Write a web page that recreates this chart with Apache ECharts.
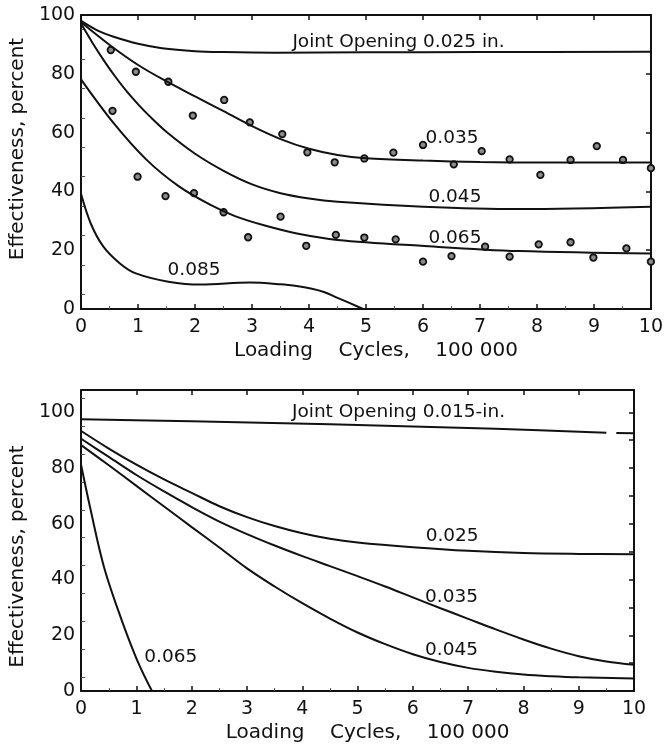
<!DOCTYPE html>
<html>
<head>
<meta charset="utf-8">
<style>
html, body { margin: 0; padding: 0; background: #fff; }
#main { width: 666px; height: 746px; }
</style>
<script src="https://cdn.jsdelivr.net/npm/echarts@6/dist/echarts.min.js"></script>
</head>
<body>
<div id="main"></div>
<script>
// upper chart: curves for each joint opening, [cycles (100 000), effectiveness %]
var top025 = [[0, 98], [0.3, 94.6], [0.57, 92.6], [1, 90.2], [1.42, 88.7], [2, 87.7], [2.5, 87.4], [3.4, 87.2], [5, 87.3], [7, 87.4], [10, 87.5]];
var top035 = [[0, 97.5], [0.5, 89.8], [1, 83], [1.5, 77.4], [2, 72.3], [2.5, 67.3], [3, 62.2], [3.5, 57.8], [4, 54.5], [4.5, 52.4], [5, 51.3], [6, 50.5], [7, 50], [8, 49.8], [10, 49.8]];
var top045 = [[0, 97], [0.2, 90.5], [0.4, 84.5], [0.6, 79], [0.8, 74], [1, 69.6], [1.2, 65.6], [1.5, 60.2], [2, 52.8], [2.5, 47], [3, 42.4], [3.5, 39.4], [4, 37.6], [4.5, 36.5], [6, 34.8], [7.68, 34], [10, 34.8]];
var top065 = [[0, 78], [0.57, 63.2], [1.14, 50.9], [1.71, 41.8], [2.28, 35.3], [2.7, 31.6], [3.24, 28.3], [3.81, 25.6], [4.5, 23.5], [5.97, 21.5], [7.68, 19.7], [10, 18.9]];
var top085 = [[0, 39], [0.17, 29], [0.39, 21.2], [0.68, 15.5], [0.96, 12.1], [1.53, 9.3], [2.1, 8.3], [2.96, 9], [3.5, 8.4], [3.81, 7.7], [4.05, 6.9], [4.26, 5.8], [4.5, 3.8], [4.95, 0]];

// measured points in the upper chart
var topDots = [
  [0.52, 88.1], [0.96, 80.7], [1.53, 77.3], [2.51, 71.1], [1.96, 65.8], [2.96, 63.5], [3.53, 59.5], [3.97, 53.3], [4.45, 49.9],
  [4.97, 51.2], [5.48, 53.2], [6.0, 55.8], [6.54, 49.2], [7.03, 53.7], [7.52, 50.9], [8.06, 45.6], [8.59, 50.7], [9.05, 55.4], [9.51, 50.7], [10, 47.9],
  [0.55, 67.4], [0.99, 45], [1.48, 38.4], [1.98, 39.4], [2.5, 32.9], [3.5, 31.4], [2.93, 24.4], [3.95, 21.5], [4.47, 25.2],
  [4.97, 24.3], [5.52, 23.7], [6.0, 16.1], [6.5, 18], [7.09, 21.2], [7.52, 17.8], [8.03, 22], [8.59, 22.7], [8.99, 17.5], [9.57, 20.6], [10, 16.1]
];

// lower chart curves
var bot015 = [[0, 97.5], [2, 96.8], [4.5, 95.7], [7.5, 94.1], [9.5, 92.7], [9.58, '-'], [9.68, 92.6], [10, 92.5]];
var bot025 = [[0, 93.3], [0.5, 87], [1, 81.2], [1.5, 75.9], [2, 71.1], [2.5, 66.3], [3, 62.4], [3.5, 59.2], [4, 56.6], [4.5, 54.6], [5, 53.3], [6, 51.6], [7, 50.3], [8, 49.5], [9, 49.2], [10, 49.1]];
var bot035 = [[0, 90.5], [0.5, 84], [1, 77.5], [1.5, 71.6], [2, 66], [2.5, 60.8], [3, 56.3], [3.5, 52.2], [4, 48.4], [4.5, 44.8], [5, 41.2], [5.5, 37.5], [6, 33.6], [6.5, 29.7], [7, 25.9], [7.5, 22.1], [8, 18.5], [8.5, 15.2], [9, 12.5], [9.5, 10.6], [10, 9.4]];
var bot045 = [[0, 88.2], [0.5, 81], [1, 73.6], [1.5, 66.2], [2, 58.8], [2.5, 51.5], [3, 44], [3.5, 37.5], [4, 31.5], [4.5, 26], [5, 21], [5.5, 16.8], [6, 13.2], [6.5, 10.4], [7, 8.3], [7.5, 6.9], [8, 5.9], [8.5, 5.3], [9, 4.9], [10, 4.5]];
var bot065 = [[0, 81], [0.17, 65.1], [0.41, 44.7], [0.71, 26.7], [1.01, 11.2], [1.28, 0]];

// curve captions, anchored at data coordinates
var topNotes = [['Joint Opening 0.025 in.', 5.57, 90.8], ['0.035', 6.51, 58.2], ['0.045', 6.56, 38.1], ['0.065', 6.56, 24.1], ['0.085', 1.98, 13.3]];
var botNotes = [['Joint Opening 0.015-in.', 5.74, 100], ['0.025', 6.71, 55.4], ['0.035', 6.7, 33.5], ['0.045', 6.7, 14.7], ['0.065', 1.62, 12.2]];

var xTicks = [0, 1, 2, 3, 4, 5, 6, 7, 8, 9, 10];
var yTicks = [0, 20, 40, 60, 80, 100];
var xTitle = 'Loading    Cycles,    100 000';
var yTitle = 'Effectiveness, percent';

var ink = '#111';
var font = 'DejaVu Sans';

var myChart = echarts.init(document.getElementById('main'));

let xAxisFor = function(grid, pos, labels) {
  return {
    type: 'value', gridIndex: grid, position: pos,
    min: xTicks[0], max: xTicks[xTicks.length - 1], interval: 1,
    name: labels ? xTitle : '', nameLocation: 'middle', nameGap: 32,
    nameTextStyle: { fontFamily: font, fontSize: 20, color: ink, padding: [0, 0, 0, 20] },
    axisLine: { show: true, onZero: false, lineStyle: { color: ink, width: 2 } },
    axisTick: { show: true, inside: true, length: 5, lineStyle: { color: ink, width: 1.5 } },
    minorTick: { show: labels, splitNumber: 2, length: 3, lineStyle: { color: '#555' } },
    axisLabel: { show: labels, margin: 9, fontFamily: font, fontSize: 19, color: ink },
    splitLine: { show: false }
  };
};

let yAxisFor = function(grid, pos, max, step, labels, pad) {
  return {
    type: 'value', gridIndex: grid, position: pos,
    min: 0, max: max, interval: step,
    name: labels ? yTitle : '', nameLocation: 'middle', nameGap: 37,
    nameTextStyle: { fontFamily: font, fontSize: 20, color: ink, padding: pad || 0 },
    axisLine: { show: true, onZero: false, lineStyle: { color: ink, width: 2 } },
    axisTick: { show: !labels, inside: true, length: 5, lineStyle: { color: ink, width: 1.5 } },
    minorTick: { show: labels, splitNumber: 2, length: 4, lineStyle: { color: '#555' } },
    axisLabel: {
      show: labels, margin: 6, fontFamily: font, fontSize: 19, color: ink,
      formatter: function(v) { return yTicks.indexOf(v) >= 0 ? String(v) : ''; }
    },
    splitLine: { show: false }
  };
};

let curve = function(data, xi, yi) {
  return {
    type: 'line', data: data, xAxisIndex: xi, yAxisIndex: yi,
    smooth: 0.35, showSymbol: false, connectNulls: false,
    lineStyle: { color: ink, width: 2 }, silent: true, animation: false
  };
};

let notes = function(list, xi, yi) {
  return {
    type: 'scatter', xAxisIndex: xi, yAxisIndex: yi, symbolSize: 0, animation: false, silent: true,
    itemStyle: { opacity: 1 },
    data: list.map(function(n) { return { name: n[0], value: [n[1], n[2]] }; }),
    label: { show: true, position: 'inside', formatter: '{b}', fontFamily: font, fontSize: 18.5, color: ink, opacity: 1 }
  };
};

option = {
  backgroundColor: '#fff',
  grid: [
    { left: 77, right: 4, top: 15, height: 294 },
    { left: 77, right: 32, top: 390, height: 301 }
  ],
  xAxis: [
    xAxisFor(0, 'bottom', true),
    xAxisFor(0, 'top', false),
    xAxisFor(1, 'bottom', true),
    xAxisFor(1, 'top', false)
  ],
  yAxis: [
    yAxisFor(0, 'left', 100, 10, true, [0, 0, 0, 26]),
    yAxisFor(0, 'right', 100, 20, false),
    yAxisFor(1, 'left', 108, 10, true, [0, 32, 0, 0]),
    yAxisFor(1, 'right', 108, 10, false)
  ],
  series: [
    curve(top025, 0, 0), curve(top035, 0, 0), curve(top045, 0, 0), curve(top065, 0, 0), curve(top085, 0, 0),
    {
      type: 'scatter', xAxisIndex: 0, yAxisIndex: 0, data: topDots, symbol: 'circle', symbolSize: 6.5,
      itemStyle: { color: '#8a8a8a', borderColor: ink, borderWidth: 1.8, opacity: 1 }, animation: false
    },
    notes(topNotes, 0, 0),
    curve(bot015, 2, 2), curve(bot025, 2, 2), curve(bot035, 2, 2), curve(bot045, 2, 2), curve(bot065, 2, 2),
    notes(botNotes, 2, 2)
  ]
};

myChart.setOption(option);
</script>
</body>
</html>
